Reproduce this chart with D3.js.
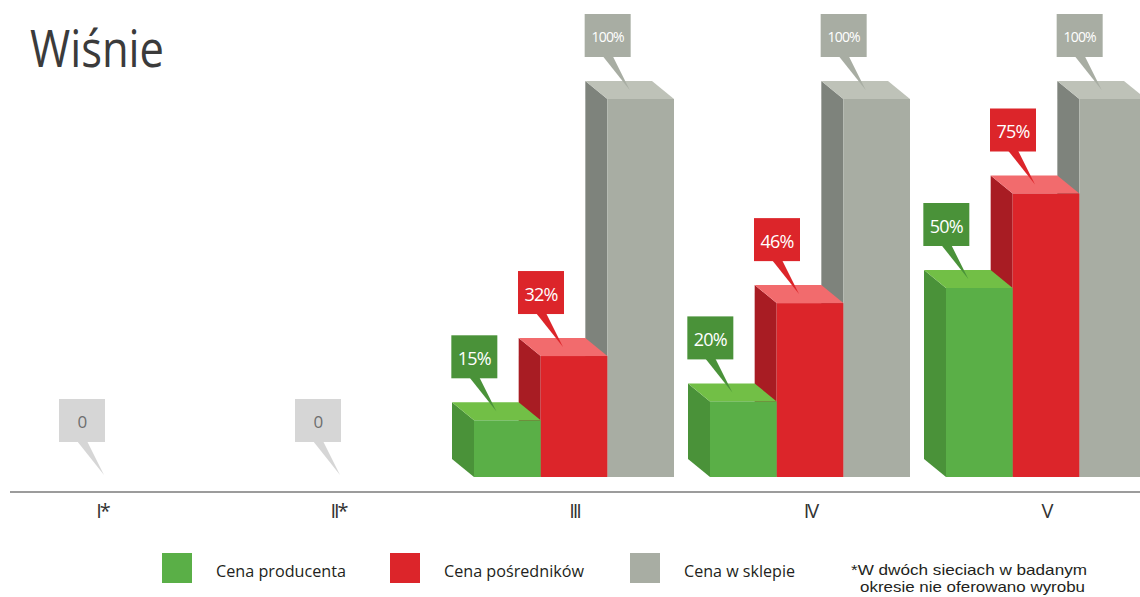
<!DOCTYPE html>
<html>
<head>
<meta charset="utf-8">
<script src="https://cdn.jsdelivr.net/npm/d3@7"></script>
<style>
  html, body { margin: 0; padding: 0; background: #fff; }
  svg { display: block; font-family: "Open Sans", sans-serif; }
</style>
</head>
<body>
<svg id="chart" width="1140" height="597"></svg>
<script>
// Price levels (% of shop price) per survey period
const categories = ["I*", "II*", "III", "IV", "V"];
const producerPrice = [0, 0, 15, 20, 50];
const middlemanPrice = [0, 0, 32, 46, 75];
const shopPrice = [0, 0, 100, 100, 100];

const seriesNames = ["Cena producenta", "Cena pośredników", "Cena w sklepie"];
const seriesValues = [producerPrice, middlemanPrice, shopPrice];
const yTicks = [0, 100];

const palette = [
  { front: "#5aaf47", side: "#4a9239", top: "#72bf46", label: "#4a9239" },
  { front: "#dc252a", side: "#a81c23", top: "#f26b6d", label: "#dc252a" },
  { front: "#a8ada3", side: "#7e837c", top: "#bec2b8", label: "#a8ada3" }
];

const svg = d3.select("#chart");

// Title
svg.append("text")
  .attr("x", 30).attr("y", 67)
  .attr("font-size", 52)
  .attr("fill", "#3b3b3b")
  .attr("textLength", 134)
  .attr("lengthAdjust", "spacingAndGlyphs")
  .text("Wiśnie");

// Scales
const x = d3.scalePoint().domain(categories).range([102, 1046]);
const groupWidth = 200;
const xs = d3.scaleBand().domain(d3.range(seriesNames.length)).range([-groupWidth / 2, groupWidth / 2]);
const y = d3.scaleLinear().domain(d3.extent(yTicks)).range([477, 99]);

// Depth of the extruded bars (back face sits up and to the left)
const dx = -22, dy = -18;
const baseY = y(0);

// Baseline axis
const axisY = 492;
svg.append("line")
  .attr("x1", 10).attr("x2", 1140)
  .attr("y1", axisY).attr("y2", axisY)
  .attr("stroke", "#7b7b7b").attr("stroke-width", 1.3);

const axis = d3.axisBottom(x).tickSize(0).tickPadding(12);
const axisG = svg.append("g").attr("transform", `translate(0,${axisY})`).call(axis);
axisG.select(".domain").remove();
axisG.selectAll("text")
  .attr("font-family", "'Open Sans', sans-serif")
  .attr("font-size", 20)
  .attr("fill", "#333")
  .attr("letter-spacing", -2);

// Bars: draw right-to-left within each group so the left bar's top overlaps its neighbour's side
const bars = svg.append("g");
const callouts = [];

categories.forEach((cat, ci) => {
  const cx = x(cat);
  const vals = seriesValues.map(s => s[ci]);
  if (vals.every(v => v === 0)) {
    callouts.push({ tx: cx + 2, ty: baseY - 2, text: "0", fill: "#d6d6d6", color: "#6e6e6e", size: 17 });
    return;
  }
  for (let si = seriesNames.length - 1; si >= 0; si--) {
    const v = vals[si];
    const x0 = cx + xs(si);
    const x1 = x0 + xs.bandwidth();
    const yt = y(v);
    const c = palette[si];
    const g = bars.append("g");
    // side face
    g.append("path")
      .attr("d", `M${x0},${yt}L${x0 + dx},${yt + dy}L${x0 + dx},${baseY + dy}L${x0},${baseY}Z`)
      .attr("fill", c.side);
    // top face
    g.append("path")
      .attr("d", `M${x0},${yt}L${x1},${yt}L${x1 + dx},${yt + dy}L${x0 + dx},${yt + dy}Z`)
      .attr("fill", c.top);
    // front face
    g.append("rect")
      .attr("x", x0).attr("y", yt)
      .attr("width", x1 - x0).attr("height", baseY - yt)
      .attr("fill", c.front);
    callouts.push({
      tx: (x0 + x1) / 2 + dx / 2,
      ty: yt + dy / 2,
      text: v + "%",
      fill: c.label,
      color: "#fff",
      size: si === 2 ? 14 : 18
    });
  }
});

// Value callouts with pointers to the bar tops
const cg = svg.append("g");
callouts.forEach(d => {
  const bw = 46, bh = 43;
  const bx = d.tx - 45;
  const bb = d.ty - 33;
  const g = cg.append("g");
  g.append("path")
    .attr("d", `M${bx + 18},${bb - 1}L${bx + 28},${bb - 1}L${d.tx},${d.ty}Z`)
    .attr("fill", d.fill);
  g.append("rect")
    .attr("x", bx).attr("y", bb - bh)
    .attr("width", bw).attr("height", bh)
    .attr("fill", d.fill);
  g.append("text")
    .attr("x", bx + bw / 2).attr("y", bb - bh / 2 + 1)
    .attr("text-anchor", "middle")
    .attr("dominant-baseline", "central")
    .attr("font-size", d.size)
    .attr("letter-spacing", -0.8)
    .attr("fill", d.color)
    .text(d.text);
});

// Legend
const legendX = [162, 390, 630];
const legendTextLen = [130, 140, 111];
const lg = svg.append("g");
seriesNames.forEach((name, i) => {
  lg.append("rect")
    .attr("x", legendX[i]).attr("y", 553)
    .attr("width", 30).attr("height", 30)
    .attr("fill", palette[i].front);
  lg.append("text")
    .attr("x", legendX[i] + 54).attr("y", 577)
    .attr("font-size", 17)
    .attr("fill", "#231f20")
    .attr("textLength", legendTextLen[i])
    .attr("lengthAdjust", "spacingAndGlyphs")
    .text(name);
});

// Footnote
const note = ["*W dwóch sieciach w badanym", "okresie nie oferowano wyrobu"];
const noteX = [851, 860];
const noteLen = [236, 225];
note.forEach((t, i) => {
  lg.append("text")
    .attr("x", noteX[i]).attr("y", 575 + i * 17)
    .attr("font-family", "'Liberation Sans', sans-serif")
    .attr("font-size", 15)
    .attr("fill", "#231f20")
    .attr("textLength", noteLen[i])
    .attr("lengthAdjust", "spacingAndGlyphs")
    .text(t);
});
</script>
</body>
</html>
